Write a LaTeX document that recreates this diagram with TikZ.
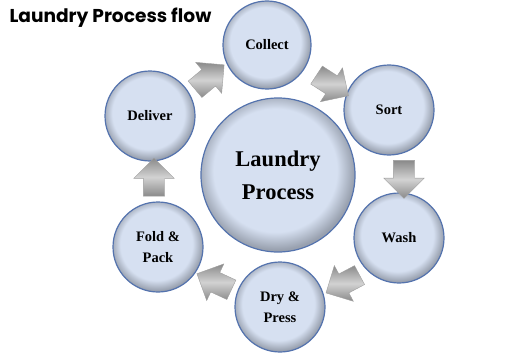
\documentclass[tikz,border=0pt]{standalone}
\usepackage{fontspec}
\setmainfont{Liberation Serif}
\newfontfamily\titlefont{Poppins}
\usetikzlibrary{shapes.arrows,calc}
\definecolor{stagefill}{HTML}{D6E0F1}
\definecolor{stageedge}{HTML}{5473AE}
\definecolor{stageshadow}{HTML}{98A0AE}
\definecolor{arrowgray}{HTML}{8A8A8A}
\definecolor{arrowlight}{HTML}{D2D2D2}
\pgfdeclareradialshading{stageshade}{\pgfpoint{-1.5bp}{2.5bp}}{color(0bp)=(stagefill); color(20bp)=(stagefill); color(25.5bp)=(stageshadow); color(50bp)=(stageshadow)}

\begin{document}
\begin{tikzpicture}[x=1pt,y=1pt,
  stage/.style={circle,draw=stageedge,line width=1.2pt,shade,shading=stageshade,minimum size=90pt,inner sep=0pt,align=center,font=\bfseries\fontsize{14.5}{21.5}\selectfont},
  hub/.style={stage,minimum size=154pt,font=\bfseries\fontsize{22.5}{33}\selectfont},
  flowarrow/.style={single arrow,draw=gray!75,line width=0.4pt,top color=arrowgray,bottom color=arrowgray,middle color=arrowlight,inner xsep=0pt,inner ysep=10.5pt,minimum height=38pt,single arrow head extend=9.5pt}]
  \useasboundingbox (0,0) rectangle (530,357);
  \node[anchor=base west,font=\titlefont\bfseries\fontsize{18.6}{21}\selectfont] (title) at (6,334) {Laundry Process flow};
  \node[hub] (hub) at (278,182) {Laundry\\Process};
  \node[stage,minimum size=88pt] (collect) at (267,312) {Collect};
  \node[stage] (sort) at (389,247) {Sort};
  \node[stage] (wash) at (399,119) {Wash};
  \node[stage] (dry) at (280,50) {Dry \&\\Press};
  \node[stage] (fold) at (158,110) {Fold \&\\Pack};
  \node[stage] (deliver) at (150,241) {Deliver};
  \node[flowarrow,rotate=40] (a1) at ($(deliver)!0.5!(collect)+(-3,0)$) {};
  \node[flowarrow,rotate=-33] (a2) at ($(collect)!0.5!(sort)+(0,-5)$) {};
  \node[flowarrow,rotate=-90] (a3) at ($(sort)!0.5!(wash)+(10,0)$) {};
  \node[flowarrow,rotate=-152] (a4) at ($(wash)!0.5!(dry)+(8,-9)$) {};
  \node[flowarrow,rotate=155] (a5) at ($(dry)!0.5!(fold)+(0,-7)$) {};
  \node[flowarrow,rotate=90] (a6) at ($(fold)!0.5!(deliver)+(0,-1)$) {};
\end{tikzpicture}
\end{document}
